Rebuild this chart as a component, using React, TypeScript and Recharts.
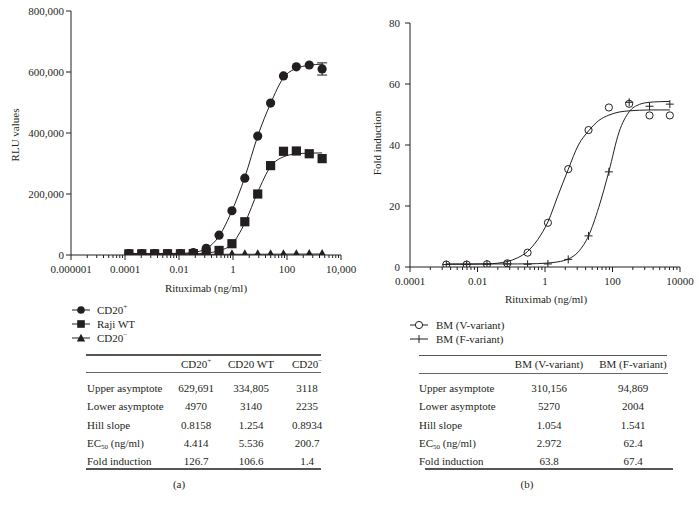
import React from 'react';
import { ComposedChart, Scatter, Line, XAxis, YAxis, ErrorBar } from 'recharts';

const FONT = '"Liberation Serif", "Times New Roman", serif';
const INK = '#231f20';

// ---------- Panel (a) data ----------
const concA = [0.000139, 0.000418, 0.00125, 0.00376, 0.0113, 0.0339, 0.102, 0.305, 0.914, 2.74, 8.23, 24.7, 74.1, 222, 667, 2000];
const cd20PosRLU = [5000, 5000, 5000, 5000, 5000, 8000, 22000, 65000, 145000, 252000, 390000, 498000, 587000, 617000, 623000, 610000];
const cd20PosErr = [0, 0, 0, 0, 0, 0, 0, 0, 0, 0, 0, 0, 0, 0, 0, 20000];
const rajiRLU = [4000, 4000, 4000, 4000, 4000, 4500, 5500, 15000, 37000, 109000, 200000, 293000, 340000, 341000, 332000, 316000];
const cd20NegRLU = [2500, 2500, 2500, 2500, 2500, 2500, 2500, 2500, 2500, 2500, 2500, 2600, 2700, 2800, 2900, 3000];
const cd20PosFit = [5000, 5000, 5000, 5100, 5500, 8500, 21000, 62000, 145000, 255000, 390000, 497000, 581000, 612000, 622000, 626000];
const rajiFit = [3200, 3200, 3200, 3300, 3500, 4200, 6500, 14000, 36000, 105000, 206000, 290000, 322000, 331500, 334000, 334700];
const cd20NegFit = [2300, 2300, 2300, 2300, 2300, 2300, 2300, 2300, 2350, 2400, 2500, 2650, 2850, 3000, 3080, 3110];
const xMajorA = [1e-6, 1e-4, 1e-2, 1, 100, 1e4];
const xLabelsA = ['0.000001', '0.0001', '0.01', '1', '100', '10,000'];
const yTicksA = [0, 200000, 400000, 600000, 800000];

// ---------- Panel (b) data ----------
const concB = [0.00119, 0.00477, 0.0191, 0.0763, 0.305, 1.22, 4.88, 19.5, 78.1, 312, 1250, 5000];
const vVariantFold = [0.8, 0.8, 0.9, 1.2, 4.7, 14.5, 32.1, 44.9, 52.3, 53.5, 49.7, 49.7];
const fVariantFold = [0.8, 0.8, 0.9, 1.0, 0.9, 1.0, 2.5, 10.2, 31.2, 54.0, 52.7, 53.4];
const fitConcB = [0.00119, 0.00477, 0.0191, 0.0763, 0.153, 0.305, 0.61, 1.22, 2.44, 4.88, 9.76, 19.5, 39, 78.1, 156, 312, 625, 1250, 2500, 5000];
const vVariantFit = [0.9, 0.9, 1.0, 1.8, 3.0, 5.1, 9.0, 14.8, 23.5, 32.0, 40.0, 44.6, 48.0, 49.8, 50.8, 51.2, 51.4, 51.5, 51.5, 51.5];
const fVariantFit = [1.0, 1.0, 1.0, 1.0, 1.0, 1.05, 1.1, 1.3, 1.7, 2.6, 5.0, 10.2, 19.5, 31.3, 44.2, 50.9, 53.3, 54.0, 54.2, 54.3];
const xMajorB = [1e-4, 1e-2, 1, 100, 1e4];
const xLabelsB = ['0.0001', '0.01', '1', '100', '10000'];
const yTicksB = [0, 20, 40, 60, 80];

// ---------- Tables ----------
const rowLabels = ['Upper asymptote', 'Lower asymptote', 'Hill slope', 'EC50 (ng/ml)', 'Fold induction'];
const headersA = ['CD20+', 'CD20 WT', 'CD20-'];
const colCD20Pos = ['629,691', '4970', '0.8158', '4.414', '126.7'];
const colRajiWT = ['334,805', '3140', '1.254', '5.536', '106.6'];
const colCD20Neg = ['3118', '2235', '0.8934', '200.7', '1.4'];
const headersB = ['BM (V-variant)', 'BM (F-variant)'];
const colV = ['310,156', '5270', '1.054', '2.972', '63.8'];
const colF = ['94,869', '2004', '1.541', '62.4', '67.4'];

const legendA = ['CD20+', 'Raji WT', 'CD20-'];
const legendB = ['BM (V-variant)', 'BM (F-variant)'];

// ---------- helpers ----------
const zip = (xs: number[], ys: number[], es?: number[]) =>
  xs.map((x, i) => (es ? { x, y: ys[i], err: es[i] } : { x, y: ys[i] }));

const withMinor = (majors: number[]) => {
  const out: number[] = [];
  majors.forEach((m, i) => {
    out.push(m);
    if (i < majors.length - 1) for (let k = 2; k <= 9; k++) out.push(m * k * k);
  });
  return out;
};

const makeXTick = (majors: number[], labels: string[]) => (props: any) => {
  const { x, y, payload } = props;
  const idx = majors.findIndex((m) => Math.abs(m - payload.value) / m < 1e-9);
  const major = idx >= 0;
  return (
    <g>
      <line x1={x} x2={x} y1={y} y2={y + (major ? 5 : 3)} stroke={INK} strokeWidth={1} />
      {major && (
        <text x={x} y={y + 14} textAnchor="middle" dominantBaseline="central" fontSize={11} fontFamily={FONT} fill={INK}>
          {labels[idx]}
        </text>
      )}
    </g>
  );
};

const FilledCircle = (p: any) => <circle cx={p.cx} cy={p.cy} r={4.6} fill={INK} />;
const FilledSquare = (p: any) => <rect x={p.cx - 4.6} y={p.cy - 4.6} width={9.2} height={9.2} fill={INK} />;
const FilledTriangle = (p: any) => (
  <path d={`M${p.cx},${p.cy - 5}L${p.cx + 5},${p.cy + 4}L${p.cx - 5},${p.cy + 4}Z`} fill={INK} />
);
const OpenCircle = (p: any) => <circle cx={p.cx} cy={p.cy} r={3.6} fill="none" stroke={INK} strokeWidth={1} />;
const PlusMark = (p: any) => (
  <path d={`M${p.cx - 4},${p.cy}H${p.cx + 4}M${p.cx},${p.cy - 4}V${p.cy + 4}`} stroke={INK} strokeWidth={1} fill="none" />
);

const tickStyle = { fill: INK, fontSize: 11, fontFamily: FONT };

const Sup = ({ t }: { t: string }) => {
  const last = t.slice(-1);
  if (last === '+' || last === '-') {
    return (
      <span>
        {t.slice(0, -1)}
        <sup style={{ fontSize: 7, verticalAlign: 'top', position: 'relative', top: -1 }}>{last === '-' ? '\u2212' : '+'}</sup>
      </span>
    );
  }
  return <span>{t}</span>;
};

const RowLabel = ({ t }: { t: string }) => {
  if (t.startsWith('EC50')) {
    return (
      <span>
        EC<sub style={{ fontSize: 7, verticalAlign: 'baseline', position: 'relative', top: 2 }}>50</sub>
        {t.slice(4)}
      </span>
    );
  }
  return <span>{t}</span>;
};

const abs = (left: number, top: number, extra: React.CSSProperties = {}): React.CSSProperties => ({
  position: 'absolute',
  left,
  top,
  whiteSpace: 'nowrap',
  lineHeight: 1,
  ...extra,
});

const Centered = ({ x, y, children, rotate }: { x: number; y: number; children: React.ReactNode; rotate?: boolean }) => (
  <div style={abs(x, y, { transform: `translate(-50%, -50%)${rotate ? ' rotate(-90deg)' : ''}` })}>{children}</div>
);

const LeftMid = ({ x, y, children }: { x: number; y: number; children: React.ReactNode }) => (
  <div style={abs(x, y, { transform: 'translateY(-50%)' })}>{children}</div>
);

const Rule = ({ x1, x2, y, w, c }: { x1: number; x2: number; y: number; w: number; c: string }) => (
  <div style={{ position: 'absolute', left: x1, top: y - w / 2, width: x2 - x1, height: w, background: c }} />
);

const LegendSymbol = ({ kind }: { kind: string }) => (
  <svg width={18} height={12} style={{ display: 'block' }}>
    <line x1={0} x2={18} y1={6} y2={6} stroke={INK} strokeWidth={1} />
    {kind === 'circle' && <circle cx={9} cy={6} r={3.8} fill={INK} />}
    {kind === 'square' && <rect x={5.2} y={2.2} width={7.6} height={7.6} fill={INK} />}
    {kind === 'triangle' && <path d="M9,1.8L13.2,9.6L4.8,9.6Z" fill={INK} />}
    {kind === 'open' && <circle cx={9} cy={6} r={3.6} fill="white" stroke={INK} strokeWidth={1} />}
    {kind === 'plus' && <path d="M9,2V10" stroke={INK} strokeWidth={1} />}
  </svg>
);

const rowYs = [387.5, 406, 424.5, 443, 461];

const PanelA = () => (
  <div style={{ position: 'absolute', left: 0, top: 0 }}>
    <ComposedChart width={375} height={300} margin={{ top: 11, right: 34, bottom: 15, left: 11 }}>
      <XAxis
        type="number"
        dataKey="x"
        scale="log"
        domain={[1e-6, 1e4]}
        allowDataOverflow
        ticks={withMinor(xMajorA)}
        interval={0}
        tick={makeXTick(xMajorA, xLabelsA)}
        tickLine={false}
        tickSize={0}
        tickMargin={0}
        axisLine={{ stroke: INK, strokeWidth: 1 }}
        height={30}
      />
      <YAxis
        type="number"
        dataKey="y"
        domain={[0, 800000]}
        allowDataOverflow
        ticks={yTicksA}
        interval={0}
        tickFormatter={(v: number) => v.toLocaleString('en-US')}
        width={60}
        tickSize={5}
        tickMargin={2}
        tick={tickStyle}
        axisLine={{ stroke: INK, strokeWidth: 1 }}
        tickLine={{ stroke: INK, strokeWidth: 1 }}
      />
      <Line data={zip(concA, cd20NegFit)} dataKey="y" type="monotone" stroke={INK} strokeWidth={1} dot={false} isAnimationActive={false} />
      <Line data={zip(concA, rajiFit)} dataKey="y" type="monotone" stroke={INK} strokeWidth={1} dot={false} isAnimationActive={false} />
      <Line data={zip(concA, cd20PosFit)} dataKey="y" type="monotone" stroke={INK} strokeWidth={1} dot={false} isAnimationActive={false} />
      <Scatter data={zip(concA, cd20PosRLU, cd20PosErr)} shape={FilledCircle} isAnimationActive={false}>
        <ErrorBar dataKey="err" direction="y" width={5} stroke={INK} strokeWidth={1} />
      </Scatter>
      <Scatter data={zip(concA, cd20NegRLU)} shape={FilledTriangle} isAnimationActive={false} />
      <Scatter data={zip(concA, rajiRLU)} shape={FilledSquare} isAnimationActive={false} />
    </ComposedChart>
  </div>
);

const PanelB = () => (
  <div style={{ position: 'absolute', left: 350, top: 0 }}>
    <ComposedChart width={350} height={310} margin={{ top: 23, right: 20, bottom: 13, left: 0 }}>
      <XAxis
        type="number"
        dataKey="x"
        scale="log"
        domain={[1e-4, 1e4]}
        allowDataOverflow
        ticks={withMinor(xMajorB)}
        interval={0}
        tick={makeXTick(xMajorB, xLabelsB)}
        tickLine={false}
        tickSize={0}
        tickMargin={0}
        axisLine={{ stroke: INK, strokeWidth: 1 }}
        height={30}
      />
      <YAxis
        type="number"
        dataKey="y"
        domain={[0, 80]}
        allowDataOverflow
        ticks={yTicksB}
        interval={0}
        width={60}
        tickSize={5}
        tickMargin={5}
        tick={tickStyle}
        axisLine={{ stroke: INK, strokeWidth: 1 }}
        tickLine={{ stroke: INK, strokeWidth: 1 }}
      />
      <Line data={zip(fitConcB, vVariantFit)} dataKey="y" type="monotone" stroke={INK} strokeWidth={1} dot={false} isAnimationActive={false} />
      <Line data={zip(fitConcB, fVariantFit)} dataKey="y" type="monotone" stroke={INK} strokeWidth={1} dot={false} isAnimationActive={false} />
      <Scatter data={zip(concB, vVariantFold)} shape={OpenCircle} isAnimationActive={false} />
      <Scatter data={zip(concB, fVariantFold)} shape={PlusMark} isAnimationActive={false} />
    </ComposedChart>
  </div>
);

export default function App() {
  const colsA = [colCD20Pos, colRajiWT, colCD20Neg];
  const colXsA = [196, 251, 307];
  const colsB = [colV, colF];
  const colXsB = [549, 633];
  const symA = ['circle', 'square', 'triangle'];
  const symB = ['open', 'plus'];
  return (
    <div
      style={{
        position: 'absolute',
        left: 0,
        top: 0,
        width: 700,
        height: 505,
        background: '#fff',
        fontFamily: FONT,
        fontSize: 11,
        color: INK,
        overflow: 'hidden',
      }}
    >
      <PanelA />
      <PanelB />

      {/* axis titles */}
      <Centered x={15} y={135} rotate>RLU values</Centered>
      <Centered x={206} y={288}>Rituximab (ng/ml)</Centered>
      <Centered x={377} y={143} rotate>Fold induction</Centered>
      <Centered x={546} y={299}>Rituximab (ng/ml)</Centered>

      {/* legend a */}
      {legendA.map((t, i) => (
        <React.Fragment key={t}>
          <div style={abs(72, 309.5 + i * 14 - 6)}>
            <LegendSymbol kind={symA[i]} />
          </div>
          <LeftMid x={97} y={309.5 + i * 14}>
            <Sup t={t} />
          </LeftMid>
        </React.Fragment>
      ))}

      {/* legend b */}
      {legendB.map((t, i) => (
        <React.Fragment key={t}>
          <div style={abs(410, 324.5 + i * 14.5 - 6)}>
            <LegendSymbol kind={symB[i]} />
          </div>
          <LeftMid x={436} y={324.5 + i * 14.5}>{t}</LeftMid>
        </React.Fragment>
      ))}

      {/* table a */}
      <Rule x1={86} x2={321} y={355} w={1.4} c="#555" />
      <Rule x1={86} x2={321} y={372.5} w={0.9} c="#666" />
      <Rule x1={86} x2={321} y={469} w={1.4} c="#555" />
      {headersA.map((h, j) => (
        <Centered key={h} x={colXsA[j]} y={364}>
          <Sup t={h} />
        </Centered>
      ))}
      {rowLabels.map((r, i) => (
        <LeftMid key={'la' + r} x={87} y={rowYs[i]}>
          <RowLabel t={r} />
        </LeftMid>
      ))}
      {colsA.map((col, j) =>
        col.map((v, i) => (
          <Centered key={`a${j}${i}`} x={colXsA[j]} y={rowYs[i]}>
            {v}
          </Centered>
        ))
      )}
      <Centered x={179} y={484}>(a)</Centered>

      {/* table b */}
      <Rule x1={419} x2={667} y={355.7} w={1.4} c="#555" />
      <Rule x1={419} x2={668} y={373} w={0.9} c="#666" />
      <Rule x1={425} x2={673} y={469} w={1.4} c="#555" />
      {headersB.map((h, j) => (
        <Centered key={h} x={colXsB[j]} y={364}>
          {h}
        </Centered>
      ))}
      {rowLabels.map((r, i) => (
        <LeftMid key={'lb' + r} x={419} y={rowYs[i]}>
          <RowLabel t={r} />
        </LeftMid>
      ))}
      {colsB.map((col, j) =>
        col.map((v, i) => (
          <Centered key={`b${j}${i}`} x={colXsB[j]} y={rowYs[i]}>
            {v}
          </Centered>
        ))
      )}
      <Centered x={527} y={484}>(b)</Centered>
    </div>
  );
}
